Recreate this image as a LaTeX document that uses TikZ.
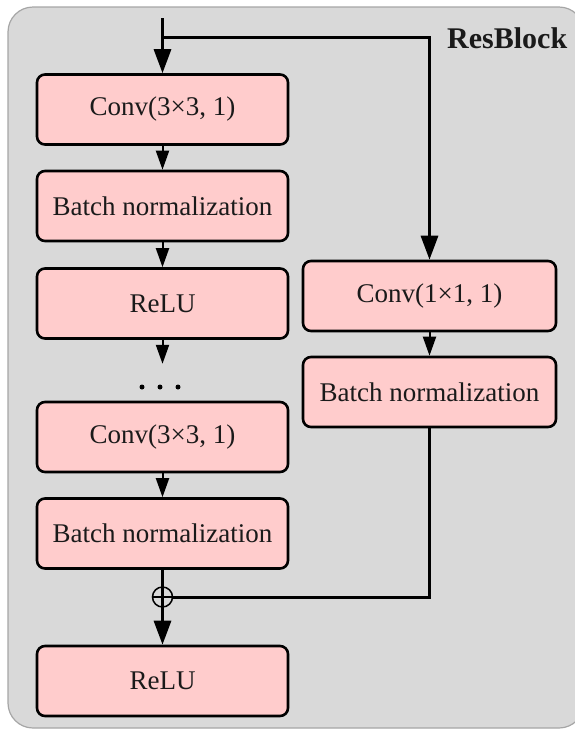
\documentclass[tikz,border=0pt]{standalone}
\usepackage{fontspec}
\setmainfont{Liberation Serif}
\usetikzlibrary{arrows.meta}
\definecolor{bgfill}{HTML}{D9D9D9}
\definecolor{bgline}{HTML}{A6A6A6}
\definecolor{boxfill}{HTML}{FFCCCC}
\definecolor{txt}{HTML}{1A1A1A}
\begin{document}
\begin{tikzpicture}[x=1pt,y=-1pt,
  blk/.style={draw=black, line width=2.6pt, fill=boxfill, rounded corners=8pt,
    minimum height=70pt, inner sep=0pt, text=txt,
    font=\fontsize{27}{32}\selectfont},
  lblk/.style={blk, minimum width=251pt},
  rblk/.style={blk, minimum width=253pt},
  bigarrow/.style={line width=3pt, -{Triangle[length=24pt,width=17pt]}},
  smallarrow/.style={line width=2pt, -{Triangle[length=19pt,width=13pt]}},
  thickline/.style={line width=3pt},
  dotmark/.style={circle, fill=black, inner sep=0pt, minimum size=5pt}
]
\useasboundingbox (0,0) rectangle (574,729);
\draw[fill=bgfill, draw=bgline, line width=1.2pt, rounded corners=25pt] (8,7) rectangle (584,728);

% left column
\node[lblk] (c1) at (162.5,109.5) {Conv(3×3, 1)};
\node[lblk] (b1) at (162.5,206) {Batch normalization};
\node[lblk] (r1) at (162.5,303.5) {ReLU};
\node[lblk] (c2) at (162.5,437) {Conv(3×3, 1)};
\node[lblk] (b2) at (162.5,533.5) {Batch normalization};
\node[lblk] (r2) at (162.5,681) {ReLU};

% right column
\node[rblk] (c3) at (429.5,296) {Conv(1×1, 1)};
\node[rblk] (b3) at (429.5,392) {Batch normalization};

% title
\node[anchor=base west, inner sep=0pt, text=txt, font=\fontsize{30}{35}\selectfont\bfseries] (title) at (447,48) {ResBlock};

% input
\coordinate (in) at (162.5,18);
\coordinate (split) at (162.5,37);
\draw[bigarrow] (in) -- (c1.north);
\draw[bigarrow] (split) -| (c3.north);

% left chain
\draw[smallarrow] (c1.south) -- (b1.north);
\draw[smallarrow] (b1.south) -- (r1.north);
\draw[smallarrow] (r1.south) -- ++(0,24);
\draw[smallarrow] (c2.south) -- (b2.north);

% dots
\node[dotmark] (d1) at (142,387) {};
\node[dotmark] (d2) at (160,387) {};
\node[dotmark] (d3) at (178,387) {};

% right chain
\draw[smallarrow] (c3.south) -- (b3.north);

% merge
\node[circle, draw=black, line width=1.5pt, minimum size=20pt, inner sep=0pt] (plus) at (162.5,597) {};
\draw[line width=1.5pt] (plus.west) -- (plus.east);
\draw[thickline] (b2.south) -- (plus.south);
\draw[thickline] (b3.south) |- (plus.east);
\draw[bigarrow] (plus.south) -- (r2.north);
\end{tikzpicture}
\end{document}
